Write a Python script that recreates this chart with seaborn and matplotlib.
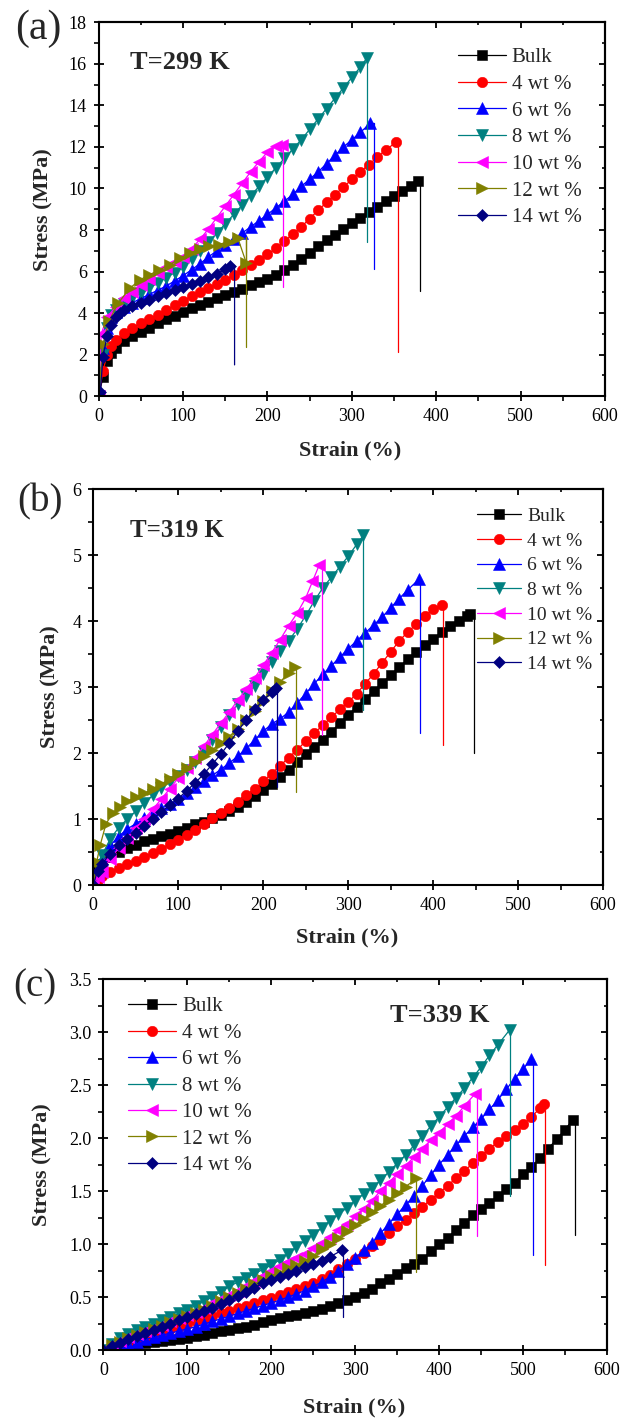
import matplotlib
matplotlib.use("Agg")
import matplotlib.pyplot as plt
import seaborn as sns
from matplotlib.ticker import MultipleLocator, FormatStrFormatter

sns.set_theme(style="ticks")
plt.rcParams["font.family"] = ["Liberation Serif", "DejaVu Serif"]
plt.rcParams["axes.edgecolor"] = "black"
plt.rcParams["xtick.color"] = "black"
plt.rcParams["ytick.color"] = "black"

LABELS = ["Bulk", "4 wt %", "6 wt %", "8 wt %", "10 wt %", "12 wt %", "14 wt %"]
COLORS = ["#000000", "#FF0000", "#0000FF", "#008080", "#FF00FF", "#808000", "#000080"]
MARKERS = ["s", "o", "^", "v", "<", ">", "D"]
MSIZES = [6.8, 7.5, 8.0, 8.0, 8.0, 8.0, 5.8]

# ---- panel (a): T = 299 K ----------------------------------------------------
strain_a_bulk = [0, 5, 10, 15, 20, 30, 40, 50, 60, 70, 80, 90, 100, 110, 120, 130, 140, 150, 160, 170,
                 180, 190, 200, 210, 220, 230, 240, 250, 260, 270, 280, 290, 300, 310, 320, 330, 340,
                 350, 360, 370, 378]
stress_a_bulk = [0, 0.9, 1.7, 2.05, 2.3, 2.65, 2.9, 3.1, 3.3, 3.5, 3.7, 3.88, 4.07, 4.23, 4.38, 4.54,
                 4.7, 4.86, 5.02, 5.18, 5.34, 5.5, 5.66, 5.85, 6.07, 6.32, 6.6, 6.9, 7.22, 7.5, 7.78,
                 8.05, 8.33, 8.6, 8.86, 9.12, 9.38, 9.64, 9.9, 10.14, 10.35]
strain_a_4 = [0, 5, 10, 15, 20, 30, 40, 50, 60, 70, 80, 90, 100, 110, 120, 130, 140, 150, 160, 170, 180,
              190, 200, 210, 220, 230, 240, 250, 260, 270, 280, 290, 300, 310, 320, 330, 340, 352]
stress_a_4 = [0, 1.2, 2.0, 2.4, 2.7, 3.05, 3.3, 3.5, 3.7, 3.92, 4.14, 4.37, 4.6, 4.8, 5.0, 5.2, 5.4,
              5.6, 5.82, 6.05, 6.3, 6.55, 6.82, 7.12, 7.45, 7.8, 8.15, 8.55, 8.95, 9.33, 9.7, 10.07,
              10.44, 10.8, 11.15, 11.5, 11.85, 12.22]
strain_a_6 = [0, 5, 10, 15, 20, 30, 40, 50, 60, 70, 80, 90, 100, 110, 120, 130, 140, 150, 160, 170, 180,
              190, 200, 210, 220, 230, 240, 250, 260, 270, 280, 290, 300, 310, 322]
stress_a_6 = [0, 2.3, 3.3, 3.8, 4.05, 4.3, 4.5, 4.7, 4.9, 5.1, 5.3, 5.55, 5.8, 6.08, 6.38, 6.7, 7.0,
              7.3, 7.58, 7.85, 8.15, 8.45, 8.75, 9.07, 9.38, 9.72, 10.1, 10.45, 10.8, 11.2, 11.6, 12.0,
              12.35, 12.7, 13.15]
strain_a_8 = [0, 5, 10, 15, 20, 30, 40, 50, 60, 70, 80, 90, 100, 110, 120, 130, 140, 150, 160, 170, 180,
              190, 200, 210, 220, 230, 240, 250, 260, 270, 280, 290, 300, 310, 318]
stress_a_8 = [0, 2.0, 3.3, 3.9, 4.15, 4.45, 4.7, 4.95, 5.2, 5.45, 5.7, 5.95, 6.2, 6.6, 7.0, 7.4, 7.85,
              8.3, 8.75, 9.2, 9.65, 10.1, 10.55, 11.0, 11.45, 11.9, 12.35, 12.85, 13.35, 13.85, 14.35,
              14.85, 15.35, 15.85, 16.3]
strain_a_10 = [0, 3, 10, 20, 30, 40, 50, 60, 70, 80, 90, 100, 110, 120, 130, 140, 150, 160, 170, 180,
               190, 200, 210, 217]
stress_a_10 = [0, 3.0, 3.8, 4.3, 4.7, 5.0, 5.35, 5.65, 5.95, 6.2, 6.45, 6.7, 7.1, 7.55, 8.05, 8.6,
               9.15, 9.7, 10.25, 10.8, 11.3, 11.75, 12.05, 12.1]
strain_a_12 = [0, 5, 12, 23, 37, 49, 60, 72, 84, 96, 108, 120, 131, 142, 154, 165, 175]
stress_a_12 = [0, 2.5, 3.6, 4.47, 5.2, 5.6, 5.84, 6.08, 6.32, 6.64, 6.88, 7.1, 7.23, 7.3, 7.44, 7.6, 6.4]
strain_a_14 = [0, 2, 5, 10, 15, 20, 25, 30, 40, 50, 60, 70, 80, 90, 100, 110, 120, 130, 140, 150, 156]
stress_a_14 = [0, 0.2, 1.9, 2.9, 3.4, 3.8, 4.0, 4.15, 4.35, 4.5, 4.65, 4.8, 4.95, 5.1, 5.25, 5.4,
               5.55, 5.72, 5.9, 6.1, 6.25]
break_x_a = [381, 355, 326.5, 318, 218.5, 175, 161]
break_top_a = [10.35, 12.22, 13.15, 16.3, 12.1, 7.65, 6.3]
break_low_a = [5.07, 2.1, 6.1, 7.4, 5.24, 2.38, 1.5]

# ---- panel (b): T = 319 K ----------------------------------------------------
strain_b_bulk = [0, 5, 10, 20, 30, 40, 50, 60, 70, 80, 90, 100, 110, 120, 130, 140, 150, 160, 170, 180,
                 190, 200, 210, 220, 230, 240, 250, 260, 270, 280, 290, 300, 310, 320, 330, 340, 350,
                 360, 370, 380, 390, 400, 410, 420, 430, 440, 444]
stress_b_bulk = [0, 0.22, 0.32, 0.42, 0.5, 0.56, 0.61, 0.66, 0.7, 0.74, 0.78, 0.82, 0.87, 0.92, 0.96,
                 1.01, 1.06, 1.12, 1.18, 1.26, 1.35, 1.44, 1.53, 1.63, 1.74, 1.86, 1.98, 2.09, 2.2,
                 2.32, 2.45, 2.58, 2.7, 2.82, 2.94, 3.06, 3.18, 3.3, 3.42, 3.53, 3.63, 3.73, 3.83,
                 3.92, 4.0, 4.08, 4.11]
strain_b_4 = [0, 5, 10, 20, 30, 40, 50, 60, 70, 80, 90, 100, 110, 120, 130, 140, 150, 160, 170, 180, 190,
              200, 210, 220, 230, 240, 250, 260, 270, 280, 290, 300, 310, 320, 330, 340, 350, 360, 370,
              380, 390, 400, 410]
stress_b_4 = [0, 0.08, 0.13, 0.2, 0.26, 0.32, 0.37, 0.42, 0.48, 0.55, 0.62, 0.69, 0.76, 0.84, 0.93,
              1.01, 1.09, 1.17, 1.26, 1.36, 1.46, 1.57, 1.69, 1.81, 1.93, 2.05, 2.18, 2.3, 2.42, 2.54,
              2.66, 2.77, 2.9, 3.05, 3.2, 3.37, 3.53, 3.7, 3.83, 3.95, 4.07, 4.18, 4.24]
strain_b_6 = [0, 5, 10, 20, 30, 40, 50, 60, 70, 80, 90, 100, 110, 120, 130, 140, 150, 160, 170, 180, 190,
              200, 210, 220, 230, 240, 250, 260, 270, 280, 290, 300, 310, 320, 330, 340, 350, 360, 370,
              383]
stress_b_6 = [0, 0.2, 0.4, 0.6, 0.74, 0.85, 0.93, 1.01, 1.09, 1.16, 1.23, 1.3, 1.39, 1.48, 1.57, 1.66,
              1.75, 1.85, 1.95, 2.07, 2.2, 2.33, 2.44, 2.52, 2.62, 2.76, 2.9, 3.05, 3.19, 3.32, 3.45,
              3.58, 3.7, 3.82, 3.94, 4.06, 4.2, 4.34, 4.47, 4.63]
strain_b_8 = [0, 5, 10, 20, 30, 40, 50, 60, 70, 80, 90, 100, 110, 120, 130, 140, 150, 160, 170, 180, 190,
              200, 210, 220, 230, 240, 250, 260, 270, 280, 290, 300, 310, 318]
stress_b_8 = [0, 0.3, 0.45, 0.7, 0.87, 1.0, 1.12, 1.24, 1.36, 1.47, 1.56, 1.65, 1.75, 1.87, 2.02, 2.2,
              2.4, 2.58, 2.74, 2.87, 3.02, 3.2, 3.38, 3.54, 3.7, 3.88, 4.08, 4.3, 4.5, 4.66, 4.82,
              4.98, 5.16, 5.3]
strain_b_10 = [0, 5, 10, 20, 30, 40, 50, 60, 70, 80, 90, 100, 110, 120, 130, 140, 150, 160, 170, 180,
               190, 200, 210, 220, 230, 240, 250, 258, 266]
stress_b_10 = [0, 0.12, 0.2, 0.4, 0.56, 0.72, 0.86, 1.0, 1.15, 1.3, 1.46, 1.62, 1.78, 1.93, 2.1, 2.28,
               2.45, 2.62, 2.8, 2.97, 3.14, 3.33, 3.52, 3.72, 3.93, 4.12, 4.35, 4.6, 4.85]
strain_b_12 = [0, 4, 8, 15, 23, 31, 40, 50, 60, 70, 80, 90, 100, 110, 120, 130, 140, 150, 160, 170,
               180, 190, 200, 210, 220, 230, 237]
stress_b_12 = [0, 0.35, 0.6, 0.93, 1.09, 1.19, 1.27, 1.33, 1.39, 1.46, 1.53, 1.61, 1.69, 1.78, 1.86,
               1.95, 2.05, 2.15, 2.25, 2.37, 2.5, 2.64, 2.79, 2.94, 3.08, 3.21, 3.31]
strain_b_14 = [0, 5, 10, 20, 30, 40, 50, 60, 70, 80, 90, 100, 110, 120, 130, 140, 150, 160, 170, 180,
               190, 200, 210, 215]
stress_b_14 = [0, 0.22, 0.32, 0.47, 0.6, 0.7, 0.79, 0.9, 1.0, 1.11, 1.21, 1.31, 1.43, 1.55, 1.68, 1.83,
               1.98, 2.15, 2.33, 2.5, 2.66, 2.8, 2.92, 2.98]
break_x_b = [448, 412, 384, 318, 269.4, 239, 216]
break_top_b = [4.11, 4.24, 4.63, 5.3, 4.85, 3.31, 2.98]
break_low_b = [2.0, 2.12, 2.3, 2.65, 2.27, 1.41, 1.49]

# ---- panel (c): T = 339 K ----------------------------------------------------
strain_c_bulk = [0, 10, 20, 30, 40, 50, 60, 70, 80, 90, 100, 110, 120, 130, 140, 150, 160, 170, 180, 190,
                 200, 210, 220, 230, 240, 250, 260, 270, 280, 290, 300, 310, 320, 330, 340, 350, 360,
                 370, 380, 390, 400, 410, 420, 430, 440, 450, 460, 470, 480, 490, 500, 510, 520, 530,
                 540, 550, 559]
stress_c_bulk = [0, 0.02, 0.035, 0.045, 0.055, 0.065, 0.075, 0.085, 0.095, 0.105, 0.115, 0.13, 0.145,
                 0.16, 0.175, 0.19, 0.205, 0.22, 0.24, 0.26, 0.28, 0.3, 0.32, 0.335, 0.35, 0.37, 0.39,
                 0.415, 0.44, 0.47, 0.5, 0.54, 0.58, 0.63, 0.67, 0.72, 0.77, 0.81, 0.86, 0.93, 1.0,
                 1.06, 1.13, 1.2, 1.27, 1.33, 1.39, 1.45, 1.52, 1.58, 1.66, 1.73, 1.81, 1.9, 1.99,
                 2.08, 2.17]
strain_c_4 = [0, 10, 20, 30, 40, 50, 60, 70, 80, 90, 100, 110, 120, 130, 140, 150, 160, 170, 180, 190,
              200, 210, 220, 230, 240, 250, 260, 270, 280, 290, 300, 310, 320, 330, 340, 350, 360, 370,
              380, 390, 400, 410, 420, 430, 440, 450, 460, 470, 480, 490, 500, 510, 520, 525]
stress_c_4 = [0, 0.04, 0.06, 0.08, 0.1, 0.12, 0.145, 0.17, 0.195, 0.22, 0.245, 0.27, 0.295, 0.32,
              0.345, 0.37, 0.395, 0.42, 0.445, 0.47, 0.495, 0.52, 0.55, 0.575, 0.6, 0.63, 0.67, 0.71,
              0.76, 0.81, 0.86, 0.92, 0.98, 1.04, 1.1, 1.17, 1.23, 1.29, 1.35, 1.42, 1.48, 1.55, 1.62,
              1.69, 1.76, 1.83, 1.9, 1.96, 2.02, 2.08, 2.13, 2.2, 2.28, 2.32]
strain_c_6 = [0, 10, 20, 30, 40, 50, 60, 70, 80, 90, 100, 110, 120, 130, 140, 150, 160, 170, 180, 190,
              200, 210, 220, 230, 240, 250, 260, 270, 280, 290, 300, 310, 320, 330, 340, 350, 360, 370,
              380, 390, 400, 410, 420, 430, 440, 450, 460, 470, 480, 490, 500, 510]
stress_c_6 = [0, 0.02, 0.04, 0.06, 0.08, 0.1, 0.12, 0.14, 0.16, 0.18, 0.2, 0.22, 0.245, 0.27, 0.295,
              0.32, 0.345, 0.37, 0.395, 0.42, 0.445, 0.47, 0.5, 0.53, 0.56, 0.6, 0.64, 0.69, 0.75,
              0.81, 0.87, 0.94, 1.01, 1.1, 1.19, 1.28, 1.37, 1.45, 1.55, 1.65, 1.75, 1.84, 1.93,
              2.02, 2.1, 2.18, 2.27, 2.36, 2.46, 2.56, 2.65, 2.75]
strain_c_8 = [0, 10, 20, 30, 40, 50, 60, 70, 80, 90, 100, 110, 120, 130, 140, 150, 160, 170, 180, 190,
              200, 210, 220, 230, 240, 250, 260, 270, 280, 290, 300, 310, 320, 330, 340, 350, 360, 370,
              380, 390, 400, 410, 420, 430, 440, 450, 460, 470, 484]
stress_c_8 = [0, 0.06, 0.11, 0.15, 0.19, 0.22, 0.25, 0.28, 0.31, 0.345, 0.38, 0.42, 0.46, 0.5, 0.55,
              0.6, 0.64, 0.68, 0.72, 0.76, 0.8, 0.85, 0.91, 0.97, 1.03, 1.09, 1.15, 1.22, 1.28, 1.34,
              1.41, 1.47, 1.53, 1.6, 1.68, 1.76, 1.84, 1.93, 2.02, 2.11, 2.2, 2.29, 2.38, 2.47, 2.57,
              2.67, 2.78, 2.88, 3.02]
strain_c_10 = [0, 10, 20, 30, 40, 50, 60, 70, 80, 90, 100, 110, 120, 130, 140, 150, 160, 170, 180, 190,
               200, 210, 220, 230, 240, 250, 260, 270, 280, 290, 300, 310, 320, 330, 340, 350, 360,
               370, 380, 390, 400, 410, 420, 430, 443]
stress_c_10 = [0, 0.05, 0.09, 0.12, 0.15, 0.18, 0.21, 0.24, 0.27, 0.3, 0.33, 0.36, 0.4, 0.44, 0.48,
               0.52, 0.56, 0.6, 0.65, 0.7, 0.75, 0.79, 0.83, 0.87, 0.91, 0.96, 1.01, 1.07, 1.13, 1.19,
               1.26, 1.33, 1.41, 1.5, 1.58, 1.66, 1.74, 1.82, 1.9, 1.98, 2.05, 2.13, 2.21, 2.3, 2.42]
strain_c_12 = [0, 10, 20, 30, 40, 50, 60, 70, 80, 90, 100, 110, 120, 130, 140, 150, 160, 170, 180, 190,
               200, 210, 220, 230, 240, 250, 260, 270, 280, 290, 300, 310, 320, 330, 340, 350, 360,
               373]
stress_c_12 = [0, 0.05, 0.08, 0.11, 0.14, 0.17, 0.2, 0.23, 0.26, 0.29, 0.32, 0.35, 0.38, 0.42, 0.46,
               0.5, 0.54, 0.58, 0.62, 0.66, 0.7, 0.73, 0.77, 0.8, 0.84, 0.89, 0.95, 1.0, 1.06, 1.12,
               1.18, 1.24, 1.3, 1.36, 1.42, 1.48, 1.54, 1.62]
strain_c_14 = [0, 10, 20, 30, 40, 50, 60, 70, 80, 90, 100, 110, 120, 130, 140, 150, 160, 170, 180, 190,
               200, 210, 220, 230, 240, 250, 260, 270, 284]
stress_c_14 = [0, 0.04, 0.07, 0.1, 0.13, 0.16, 0.19, 0.22, 0.25, 0.28, 0.31, 0.34, 0.37, 0.4, 0.43,
               0.47, 0.51, 0.55, 0.59, 0.63, 0.66, 0.69, 0.72, 0.75, 0.78, 0.81, 0.84, 0.88, 0.94]
break_x_c = [562, 526.5, 511.8, 484.7, 445, 372.7, 285.3]
break_top_c = [2.17, 2.32, 2.75, 3.02, 2.42, 1.62, 0.94]
break_low_c = [1.09, 0.8, 0.9, 1.45, 1.08, 0.74, 0.31]

PANELS = [
    dict(strains=[strain_a_bulk, strain_a_4, strain_a_6, strain_a_8, strain_a_10, strain_a_12, strain_a_14],
         stresses=[stress_a_bulk, stress_a_4, stress_a_6, stress_a_8, stress_a_10, stress_a_12, stress_a_14],
         bx=break_x_a, btop=break_top_a, blow=break_low_a,
         rect=[0.1587, 0.7215, 0.8140, 0.2627], ylim=18, ymaj=2, ymin=1, yfmt="%d",
         temp="T=299 K", tpos=(0.062, 0.876), tsize=19,
         leg=(0.709, 0.932), legsize=15, legsp=0.34,
         ylab_x=-0.090, xlab_y=-0.118, tag="(a)", tagpos=(0.024, 0.9796), tagsize=30),
    dict(strains=[strain_b_bulk, strain_b_4, strain_b_6, strain_b_8, strain_b_10, strain_b_12, strain_b_14],
         stresses=[stress_b_bulk, stress_b_4, stress_b_6, stress_b_8, stress_b_10, stress_b_12, stress_b_14],
         bx=break_x_b, btop=break_top_b, blow=break_low_b,
         rect=[0.1500, 0.3776, 0.8195, 0.2785], ylim=6, ymaj=1, ymin=0.5, yfmt="%d",
         temp="T=319 K", tpos=(0.072, 0.879), tsize=18,
         leg=(0.752, 0.953), legsize=14, legsp=0.36,
         ylab_x=-0.065, xlab_y=-0.106, tag="(b)", tagpos=(0.027, 0.647), tagsize=28),
    dict(strains=[strain_c_bulk, strain_c_4, strain_c_6, strain_c_8, strain_c_10, strain_c_12, strain_c_14],
         stresses=[stress_c_bulk, stress_c_4, stress_c_6, stress_c_8, stress_c_10, stress_c_12, stress_c_14],
         bx=break_x_c, btop=break_top_c, blow=break_low_c,
         rect=[0.1661, 0.0506, 0.8098, 0.2609], ylim=3.5, ymaj=0.5, ymin=0.25, yfmt="%.1f",
         temp="T=339 K", tpos=(0.570, 0.885), tsize=19,
         leg=(0.049, 0.952), legsize=15, legsp=0.33,
         ylab_x=-0.100, xlab_y=-0.129, tag="(c)", tagpos=(0.021, 0.3059), tagsize=28),
]

fig = plt.figure(figsize=(6.22, 14.22), dpi=100, facecolor="white")

for p in PANELS:
    ax = fig.add_axes(p["rect"])
    ax.set_facecolor("white")
    for i in range(7):
        sx, sy = p["strains"][i], p["stresses"][i]
        c = COLORS[i]
        sns.lineplot(x=sx, y=sy, ax=ax, color=c, marker=MARKERS[i], markersize=MSIZES[i],
                     markeredgecolor=c, markeredgewidth=0.4, linewidth=0.9,
                     estimator=None, sort=False, label=LABELS[i])
        # break (fracture) drop line
        ax.plot([sx[-1], p["bx"][i], p["bx"][i]], [sy[-1], p["btop"][i], p["blow"][i]],
                color=c, lw=0.9)

    ax.set_xlim(0, 600)
    ax.set_ylim(0, p["ylim"])
    ax.xaxis.set_major_locator(MultipleLocator(100))
    ax.xaxis.set_minor_locator(MultipleLocator(50))
    ax.yaxis.set_major_locator(MultipleLocator(p["ymaj"]))
    ax.yaxis.set_minor_locator(MultipleLocator(p["ymin"]))
    ax.yaxis.set_major_formatter(FormatStrFormatter(p["yfmt"]))
    ax.tick_params(which="major", direction="inout", length=7, width=1.3, labelsize=13, pad=5)
    ax.tick_params(which="minor", direction="out", length=3.5, width=1.2)
    for s in ax.spines.values():
        s.set_linewidth(1.5)
        s.set_visible(True)

    top = ax.secondary_xaxis("top")
    top.xaxis.set_major_locator(MultipleLocator(100))
    top.xaxis.set_minor_locator(MultipleLocator(50))
    top.tick_params(which="major", direction="in", length=4, width=1.3, labeltop=False)
    top.tick_params(which="minor", direction="in", length=2.5, width=1.2)
    top.spines["top"].set_linewidth(1.5)
    right = ax.secondary_yaxis("right")
    right.yaxis.set_major_locator(MultipleLocator(p["ymaj"]))
    right.yaxis.set_minor_locator(MultipleLocator(p["ymin"]))
    right.tick_params(which="major", direction="in", length=4, width=1.3, labelright=False)
    right.tick_params(which="minor", direction="in", length=2.5, width=1.2)
    right.spines["right"].set_linewidth(1.5)

    ax.set_xlabel("Strain (%)", fontsize=16, fontweight="bold")
    ax.set_ylabel("Stress (MPa)", fontsize=16, fontweight="bold")
    ax.xaxis.set_label_coords(0.497, p["xlab_y"])
    ax.yaxis.set_label_coords(p["ylab_x"], 0.5)

    ax.text(p["tpos"][0], p["tpos"][1], p["temp"], transform=ax.transAxes,
            fontsize=p["tsize"], fontweight="bold", va="baseline", ha="left")
    ax.legend(loc="upper left", bbox_to_anchor=p["leg"], frameon=False, fontsize=p["legsize"],
              handlelength=2.3, handletextpad=0.3, labelspacing=p["legsp"], borderpad=0,
              borderaxespad=0, numpoints=1)
    fig.text(p["tagpos"][0], p["tagpos"][1], p["tag"], fontsize=p["tagsize"], va="center", ha="left")

fig.savefig("out.png", dpi=100, facecolor="white")
